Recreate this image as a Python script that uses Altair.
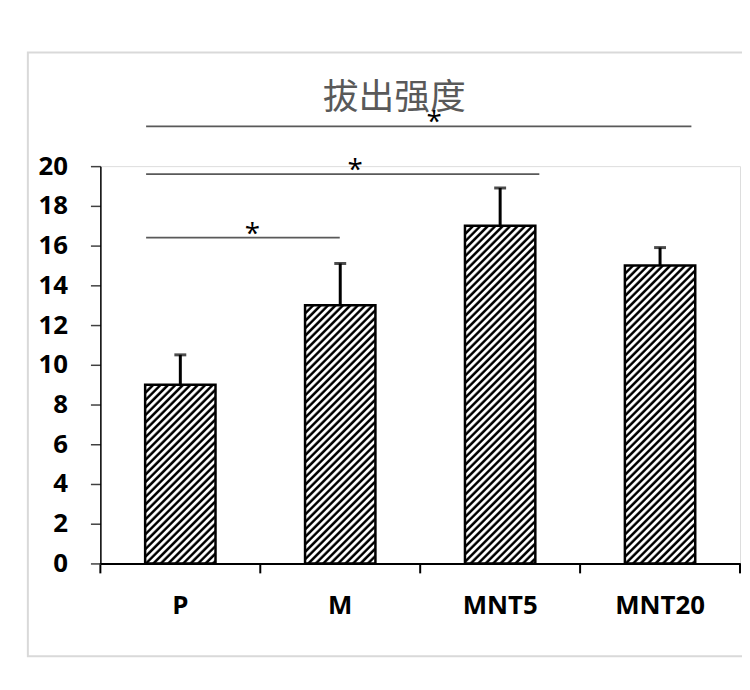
import altair as alt
import pandas as pd

# ---- data ----
categories = ["P", "M", "MNT5", "MNT20"]
means = [9, 13, 17, 15]
err_top = [10.5, 15.1, 18.9, 15.9]
y_ticks = [0, 2, 4, 6, 8, 10, 12, 14, 16, 18, 20]
x_boundaries = [0, 1, 2, 3, 4]

# significance brackets (x in category units 0..4, y in data units)
sig_x1 = [0.286, 0.286, 0.286]
sig_x2 = [3.696, 2.745, 1.497]
sig_y = [22.0, 19.6, 16.4]
star_x = [2.087, 1.593, 0.950]
star_y = [22.45, 20.03, 16.85]
title_text = "拔出强度"

# ---- geometry/style ----
W, H = 644, 400
PAD_IN = 0.56
step = W / (len(categories) - PAD_IN + 2 * PAD_IN / 2)
bar_w = step * (1 - PAD_IN)
px_per_unit = H / 20
PERIOD = 7.5

df = pd.DataFrame({"cat": categories, "mean": means, "top": err_top})
sig = pd.DataFrame({"x1": sig_x1, "x2": sig_x2, "y": sig_y})
stars = pd.DataFrame({"x": star_x, "y": star_y, "t": ["*"] * len(star_x)})
bounds = pd.DataFrame({"b": x_boundaries})

yscale = alt.Scale(domain=[0, 20], nice=False, zero=True)
xscale = alt.Scale(domain=categories, paddingInner=PAD_IN, paddingOuter=PAD_IN / 2)
xaxis = alt.Axis(title=None, labelFont="Open Sans", labelFontWeight="bold", labelFontSize=26,
                 labelColor="black", labelAngle=0, labelPadding=29, domainColor="black",
                 domainWidth=2, ticks=False, zindex=1)
yaxis = alt.Axis(title=None, values=y_ticks, labelFont="Open Sans", labelFontWeight="bold",
                 labelFontSize=26, labelColor="black", labelPadding=23, domainColor="black",
                 domainWidth=1.5, tickColor="#404040", tickWidth=1.5, tickSize=10, grid=False,
                 zindex=1)


def hatch(h):
    w = bar_w
    s = (w + h) / (w * w + h * h)
    L = w + h
    n = int(L / PERIOD) + 2
    stops = []
    for k in range(n):
        t0 = k * PERIOD / L
        for off, col in [(0.0, "#000000"), (0.25, "#000000"), (0.45, "#ffffff"), (0.75, "#ffffff")]:
            t = t0 + off * PERIOD / L
            if t <= 1:
                stops.append({"offset": round(t, 5), "color": col})
    return {"gradient": "linear", "x1": 0, "y1": 0, "x2": w * s, "y2": h * s, "stops": stops}


base = alt.Chart(df)
X = alt.X("cat:N", sort=categories, scale=xscale, axis=xaxis)

bar_layers = []
for c, m in zip(categories, means):
    bar_layers.append(
        base.transform_filter(alt.datum.cat == c).mark_bar(
            fill=hatch(m * px_per_unit), stroke="black", strokeWidth=2.5
        ).encode(x=X, y=alt.Y("mean:Q", scale=yscale, axis=yaxis))
    )

err = base.mark_rule(color="black", strokeWidth=3).encode(
    x=X, y=alt.Y("mean:Q", scale=yscale, axis=yaxis), y2="top:Q",
)
cap = base.mark_tick(color="black", thickness=3, size=12).encode(
    x=X, y=alt.Y("top:Q", scale=yscale, axis=yaxis),
)
main = alt.layer(*bar_layers, err, cap)

qx = alt.Scale(domain=[0, 4], nice=False, zero=False)
frame = alt.Chart(pd.DataFrame({"a": [0]})).mark_rect(
    fill="white", fillOpacity=0, stroke="#d9d9d9", strokeWidth=2
).encode(x=alt.value(-73), x2=alt.value(649), y=alt.value(-114.5), y2=alt.value(493.5))
xticks = alt.Chart(bounds).mark_rule(color="black", strokeWidth=2).encode(
    x=alt.X("b:Q", scale=qx, axis=None), y=alt.value(H), y2=alt.value(H + 10)
)
sig_lines = alt.Chart(sig).mark_rule(color="#595959", strokeWidth=1.8).encode(
    x=alt.X("x1:Q", scale=qx, axis=None),
    x2="x2:Q",
    y=alt.Y("y:Q", scale=yscale, axis=yaxis),
)
star_text = alt.Chart(stars).mark_text(font="Open Sans", fontSize=28, color="black",
                                       baseline="middle", dy=6).encode(
    x=alt.X("x:Q", scale=qx, axis=None),
    y=alt.Y("y:Q", scale=yscale, axis=yaxis),
    text="t:N",
)
title = alt.Chart(pd.DataFrame({"t": [title_text]})).mark_text(
    font="Noto Sans CJK SC", fontSize=36, color="#595959", baseline="middle", align="center"
).encode(x=alt.value(296), y=alt.value(-69), text="t:N")
annot = alt.layer(frame, xticks, title, sig_lines, star_text)

chart = alt.layer(main, annot).resolve_scale(x="independent").properties(
    width=W, height=H,
    autosize=alt.AutoSizeParams(type="none"),
    padding={"left": 93, "top": 157, "right": 2, "bottom": 95},
).configure_view(strokeWidth=0).configure(background="white")

chart.save("out.html", embed_options={"renderer": "svg", "actions": False})
